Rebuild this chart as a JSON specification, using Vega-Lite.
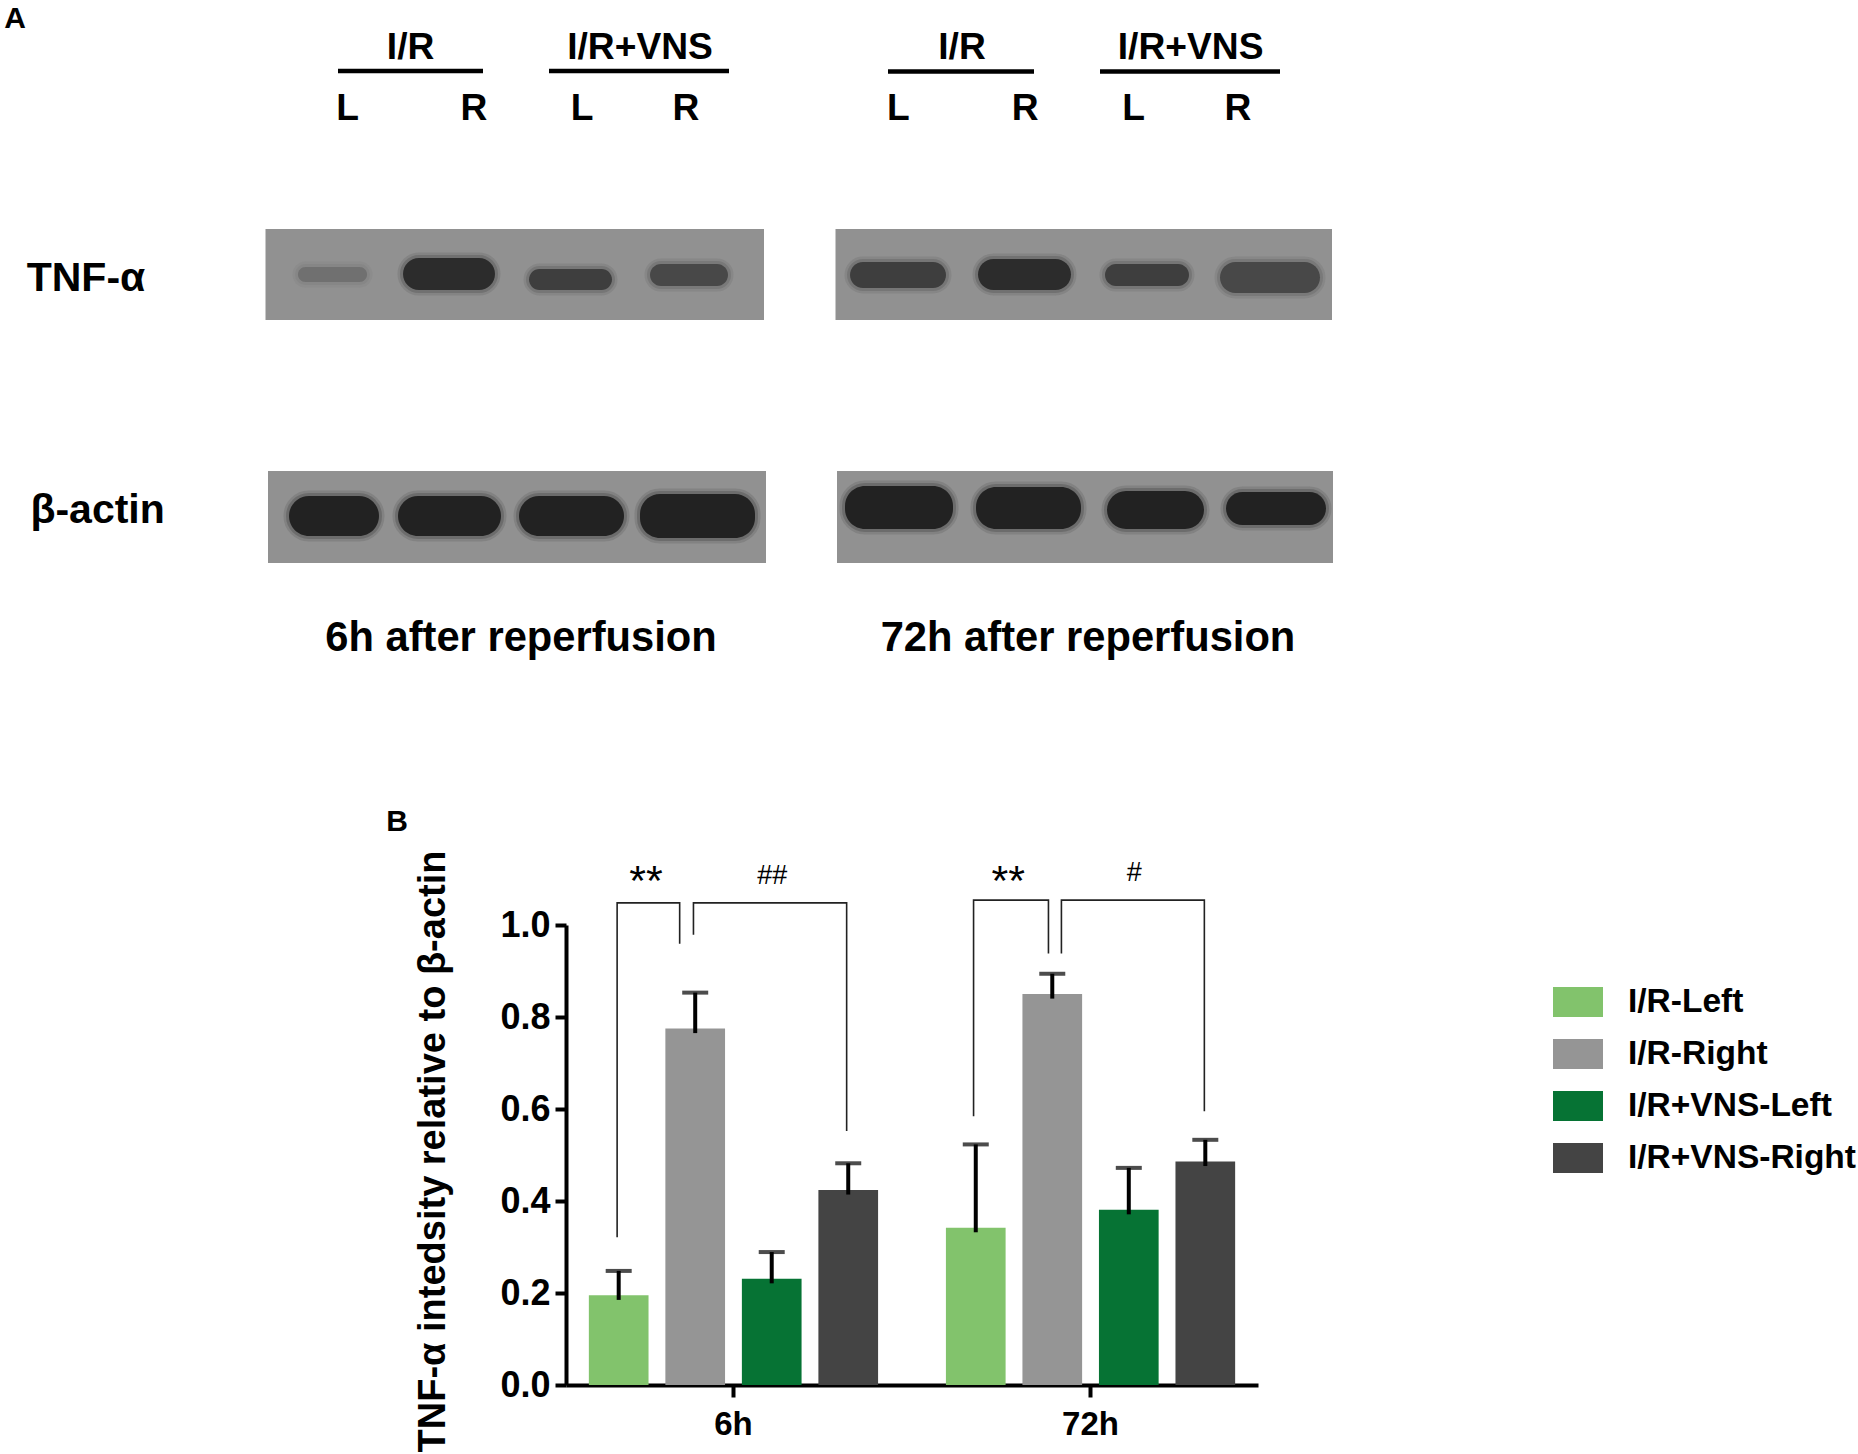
{
"$schema":"https://vega.github.io/schema/vega-lite/v6.json",
"padding":0,"spacing":0,"bounds":"flush","background":"white",
"resolve":{"scale":{"color":"independent","stroke":"independent","x":"independent","y":"independent"}},
"config":{"view":{"stroke":null},"font":"Liberation Sans","text":{"font":"Liberation Sans","fontWeight":"bold","color":"#000000"}},
"datasets":{
"blots":[
{"blot":"TNF-α","time":"6h","x0":132.75,"x1":382,"y0":114.5,"y1":160},
{"blot":"TNF-α","time":"72h","x0":417.75,"x1":666,"y0":114.5,"y1":160},
{"blot":"β-actin","time":"6h","x0":134,"x1":383,"y0":235.5,"y1":281.5},
{"blot":"β-actin","time":"72h","x0":418.5,"x1":666.5,"y0":235.5,"y1":281.5}],
"bands":[
{"blot":"TNF-α","time":"6h","lane":"I/R L","x0":149,"x1":183.5,"y0":133.5,"y1":141,"darkness":"d1"},
{"blot":"TNF-α","time":"6h","lane":"I/R R","x0":201.5,"x1":247.5,"y0":129,"y1":145,"darkness":"d4"},
{"blot":"TNF-α","time":"6h","lane":"VNS L","x0":264.5,"x1":306,"y0":134.5,"y1":145,"darkness":"d3"},
{"blot":"TNF-α","time":"6h","lane":"VNS R","x0":325,"x1":364,"y0":132,"y1":143,"darkness":"d2"},
{"blot":"TNF-α","time":"72h","lane":"I/R L","x0":425,"x1":473,"y0":131,"y1":144,"darkness":"d3"},
{"blot":"TNF-α","time":"72h","lane":"I/R R","x0":489,"x1":535.5,"y0":129.5,"y1":145,"darkness":"d4"},
{"blot":"TNF-α","time":"72h","lane":"VNS L","x0":552.5,"x1":594.5,"y0":132,"y1":143,"darkness":"d3"},
{"blot":"TNF-α","time":"72h","lane":"VNS R","x0":610,"x1":660,"y0":131,"y1":146.5,"darkness":"d2"},
{"blot":"β-actin","time":"6h","lane":"I/R L","x0":144.5,"x1":189.5,"y0":248,"y1":268,"darkness":"d5"},
{"blot":"β-actin","time":"6h","lane":"I/R R","x0":199,"x1":250.5,"y0":248,"y1":268,"darkness":"d5"},
{"blot":"β-actin","time":"6h","lane":"VNS L","x0":259.5,"x1":312,"y0":248,"y1":268,"darkness":"d5"},
{"blot":"β-actin","time":"6h","lane":"VNS R","x0":320,"x1":377.5,"y0":247,"y1":269,"darkness":"d5"},
{"blot":"β-actin","time":"72h","lane":"I/R L","x0":422.5,"x1":476.5,"y0":243,"y1":264.5,"darkness":"d5"},
{"blot":"β-actin","time":"72h","lane":"I/R R","x0":488,"x1":540.5,"y0":243.5,"y1":264.5,"darkness":"d5"},
{"blot":"β-actin","time":"72h","lane":"VNS L","x0":553.5,"x1":602,"y0":245.5,"y1":264.5,"darkness":"d5"},
{"blot":"β-actin","time":"72h","lane":"VNS R","x0":613,"x1":663,"y0":246,"y1":262.5,"darkness":"d5"}],
"rules":[
{"group":"I/R 6h","x0":169,"x1":241.5,"y":35.5},
{"group":"I/R+VNS 6h","x0":274.5,"x1":364.5,"y":35.5},
{"group":"I/R 72h","x0":444,"x1":517,"y":35.8},
{"group":"I/R+VNS 72h","x0":550,"x1":640,"y":35.8}],
"labels":[
{"label":"A","kind":"panel","x":7.5,"y":9.5},
{"label":"B","kind":"panel","x":198.5,"y":411},
{"label":"I/R","kind":"lane","x":205.3,"y":24},
{"label":"I/R+VNS","kind":"lane","x":320,"y":24},
{"label":"I/R","kind":"lane","x":481,"y":24},
{"label":"I/R+VNS","kind":"lane","x":595.3,"y":24},
{"label":"L","kind":"lane","x":173.8,"y":54.5},
{"label":"R","kind":"lane","x":237,"y":54.5},
{"label":"L","kind":"lane","x":291,"y":54.5},
{"label":"R","kind":"lane","x":343,"y":54.5},
{"label":"L","kind":"lane","x":449.2,"y":54.5},
{"label":"R","kind":"lane","x":512.6,"y":54.5},
{"label":"L","kind":"lane","x":566.8,"y":54.5},
{"label":"R","kind":"lane","x":619,"y":54.5},
{"label":"TNF-α","kind":"blot","x":43,"y":139.5},
{"label":"β-actin","kind":"blot","x":48.8,"y":255.5},
{"label":"6h after reperfusion","kind":"caption","x":260.5,"y":318.8},
{"label":"72h after reperfusion","kind":"caption","x":544,"y":318.8}],
"bars":[
{"time":"6h","group":"I/R-Left","value":0.195,"low":0.185,"high":0.248},
{"time":"6h","group":"I/R-Right","value":0.775,"low":0.765,"high":0.853},
{"time":"6h","group":"I/R+VNS-Left","value":0.231,"low":0.221,"high":0.289},
{"time":"6h","group":"I/R+VNS-Right","value":0.424,"low":0.414,"high":0.482},
{"time":"72h","group":"I/R-Left","value":0.342,"low":0.332,"high":0.523},
{"time":"72h","group":"I/R-Right","value":0.85,"low":0.84,"high":0.894},
{"time":"72h","group":"I/R+VNS-Left","value":0.381,"low":0.371,"high":0.472},
{"time":"72h","group":"I/R+VNS-Right","value":0.486,"low":0.476,"high":0.533}],
"brackets":[
{"id":"a","step":1,"pos":0.142,"level":0.321},{"id":"a","step":2,"pos":0.142,"level":1.048},{"id":"a","step":3,"pos":0.3157,"level":1.048},{"id":"a","step":4,"pos":0.3157,"level":0.959},
{"id":"b","step":1,"pos":0.354,"level":0.979},{"id":"b","step":2,"pos":0.354,"level":1.048},{"id":"b","step":3,"pos":0.7795,"level":1.048},{"id":"b","step":4,"pos":0.7795,"level":0.552},
{"id":"c","step":1,"pos":1.132,"level":0.584},{"id":"c","step":2,"pos":1.132,"level":1.054},{"id":"c","step":3,"pos":1.34,"level":1.054},{"id":"c","step":4,"pos":1.34,"level":0.938},
{"id":"d","step":1,"pos":1.376,"level":0.938},{"id":"d","step":2,"pos":1.376,"level":1.054},{"id":"d","step":3,"pos":1.773,"level":1.054},{"id":"d","step":4,"pos":1.773,"level":0.595}],
"marks":[
{"label":"**","kind":"star","pos":0.222,"level":1.093},
{"label":"##","kind":"hash","pos":0.573,"level":1.106},
{"label":"**","kind":"star","pos":1.228,"level":1.093},
{"label":"#","kind":"hash","pos":1.578,"level":1.112}]
},
"vconcat":[
{"width":1858,"height":925,
"layer":[
{"data":{"name":"blots"},"mark":{"type":"rect","color":"#919191"},
"encoding":{
"x":{"field":"x0","type":"quantitative","scale":{"domain":[0,929],"nice":false,"zero":false},"axis":null},
"x2":{"field":"x1"},
"y":{"field":"y0","type":"quantitative","scale":{"domain":[0,462.5],"reverse":true,"nice":false,"zero":false},"axis":null},
"y2":{"field":"y1"}}},
{"data":{"name":"bands"},"mark":{"type":"rect","cornerRadius":20,"fillOpacity":0,"strokeWidth":11,"strokeOpacity":0.13},
"encoding":{
"x":{"field":"x0","type":"quantitative"},"x2":{"field":"x1"},
"y":{"field":"y0","type":"quantitative"},"y2":{"field":"y1"},
"stroke":{"field":"darkness","type":"nominal","scale":{"domain":["d1","d2","d3","d4","d5"],"range":["#707070","#484848","#3e3e3e","#2c2c2c","#222222"]},"legend":null}}},
{"data":{"name":"bands"},"mark":{"type":"rect","cornerRadius":20,"fillOpacity":0,"strokeWidth":6,"strokeOpacity":0.22},
"encoding":{
"x":{"field":"x0","type":"quantitative"},"x2":{"field":"x1"},
"y":{"field":"y0","type":"quantitative"},"y2":{"field":"y1"},
"stroke":{"field":"darkness","type":"nominal","legend":null}}},
{"data":{"name":"bands"},"mark":{"type":"rect","cornerRadius":20},
"encoding":{
"x":{"field":"x0","type":"quantitative"},"x2":{"field":"x1"},
"y":{"field":"y0","type":"quantitative"},"y2":{"field":"y1"},
"color":{"field":"darkness","type":"nominal","scale":{"domain":["d1","d2","d3","d4","d5"],"range":["#707070","#484848","#3e3e3e","#2c2c2c","#222222"]},"legend":null}}},
{"data":{"name":"rules"},"mark":{"type":"rule","color":"#000000","strokeWidth":4.5},
"encoding":{
"x":{"field":"x0","type":"quantitative"},"x2":{"field":"x1"},
"y":{"field":"y","type":"quantitative"}}},
{"data":{"name":"labels"},"transform":[{"filter":"datum.kind==='panel'"}],"mark":{"type":"text","align":"center","baseline":"middle","fontSize":30},
"encoding":{"x":{"field":"x","type":"quantitative"},"y":{"field":"y","type":"quantitative"},"text":{"field":"label","type":"nominal"}}},
{"data":{"name":"labels"},"transform":[{"filter":"datum.kind==='lane'"}],"mark":{"type":"text","align":"center","baseline":"middle","fontSize":37.2},
"encoding":{"x":{"field":"x","type":"quantitative"},"y":{"field":"y","type":"quantitative"},"text":{"field":"label","type":"nominal"}}},
{"data":{"name":"labels"},"transform":[{"filter":"datum.kind==='blot'"}],"mark":{"type":"text","align":"center","baseline":"middle","fontSize":41},
"encoding":{"x":{"field":"x","type":"quantitative"},"y":{"field":"y","type":"quantitative"},"text":{"field":"label","type":"nominal"}}},
{"data":{"name":"labels"},"transform":[{"filter":"datum.kind==='caption'"}],"mark":{"type":"text","align":"center","baseline":"middle","fontSize":41.7},
"encoding":{"x":{"field":"x","type":"quantitative"},"y":{"field":"y","type":"quantitative"},"text":{"field":"label","type":"nominal"}}}
]},
{"spacing":0,"bounds":"flush",
"resolve":{"scale":{"color":"independent","x":"independent","y":"independent"}},
"hconcat":[
{"width":566,"height":460,"data":{"values":[]},"mark":"point"},
{"width":692,"height":460,
"resolve":{"scale":{"x":"independent"}},
"layer":[
{"data":{"name":"bars"},
"encoding":{
"x":{"field":"time","type":"nominal","sort":["6h","72h"],"scale":{"paddingInner":0.19,"paddingOuter":0.064},
"axis":{"title":null,"labelAngle":0,"labelFontSize":33,"labelFontWeight":"bold","labelColor":"#000000","labelPadding":11,"tickColor":"#000000","tickWidth":4,"tickSize":12,"domainColor":"#000000","domainWidth":4,"grid":false}},
"xOffset":{"field":"group","type":"nominal","scale":{"domain":["I/R-Left","I/R-Right","I/R+VNS-Left","I/R+VNS-Right"],"paddingInner":0.22,"paddingOuter":0}}},
"layer":[
{"mark":{"type":"bar"},
"encoding":{
"y":{"field":"value","type":"quantitative","scale":{"domain":[0,1],"nice":false},
"axis":{"title":"TNF-α intedsity relative to β-actin","titleFontSize":38,"titleFontWeight":"bold","titleColor":"#000000","titlePadding":47,"titleY":226,"values":[0,0.2,0.4,0.6,0.8,1],"format":".1f","labelFontSize":36,"labelFontWeight":"bold","labelColor":"#000000","labelPadding":5,"tickColor":"#000000","tickWidth":4,"tickSize":11,"domainColor":"#000000","domainWidth":4,"grid":false}},
"color":{"field":"group","type":"nominal","scale":{"domain":["I/R-Left","I/R-Right","I/R+VNS-Left","I/R+VNS-Right"],"range":["#82c36c","#959595","#067334","#444444"]},
"legend":{"title":null,"orient":"none","legendX":987,"legendY":52,"symbolType":"M-1,-0.6H1V0.6H-1Z","symbolSize":2500,"symbolStrokeWidth":0,"symbolOpacity":1,"labelFontSize":33.5,"labelFontWeight":"bold","labelColor":"#000000","labelOffset":25,"rowPadding":10,"labelLimit":400}}}},
{"mark":{"type":"rule","color":"#000000","strokeWidth":4},
"encoding":{"y":{"field":"low","type":"quantitative"},"y2":{"field":"high"}}},
{"mark":{"type":"tick","color":"#000000","thickness":4,"size":26,"orient":"horizontal"},
"encoding":{"y":{"field":"high","type":"quantitative"}}}
]},
{"layer":[
{"data":{"name":"brackets"},"mark":{"type":"line","color":"#222222","strokeWidth":1.6},
"encoding":{
"x":{"field":"pos","type":"quantitative","scale":{"domain":[0,1.922],"nice":false,"zero":false},"axis":null},
"y":{"field":"level","type":"quantitative"},
"detail":{"field":"id","type":"nominal"},
"order":{"field":"step","type":"quantitative"}}},
{"data":{"name":"marks"},"transform":[{"filter":"datum.kind==='star'"}],"mark":{"type":"text","fontWeight":"normal","baseline":"middle","align":"center","fontSize":43},
"encoding":{"x":{"field":"pos","type":"quantitative","axis":null},"y":{"field":"level","type":"quantitative"},"text":{"field":"label","type":"nominal"}}},
{"data":{"name":"marks"},"transform":[{"filter":"datum.kind==='hash'"}],"mark":{"type":"text","fontWeight":"normal","baseline":"middle","align":"center","fontSize":27},
"encoding":{"x":{"field":"pos","type":"quantitative","axis":null},"y":{"field":"level","type":"quantitative"},"text":{"field":"label","type":"nominal"}}}
]}
]}
]}
]
}
